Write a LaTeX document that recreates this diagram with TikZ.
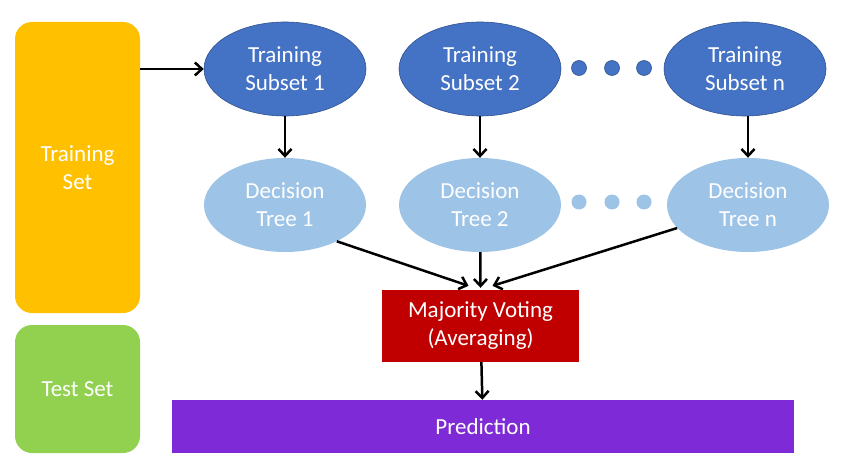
\documentclass[tikz,border=0pt]{standalone}
\usepackage{fontspec}
\setmainfont{Carlito}
\usetikzlibrary{shapes.geometric, arrows.meta}
\definecolor{setorange}{HTML}{FFC000}
\definecolor{setgreen}{HTML}{92D050}
\definecolor{subblue}{HTML}{4472C4}
\definecolor{subedge}{HTML}{2F528F}
\definecolor{treeblue}{HTML}{9DC3E6}
\definecolor{votered}{HTML}{C00000}
\definecolor{predpurple}{HTML}{7E2AD6}
\tikzstyle{dataset} = [rectangle, rounded corners=17pt, minimum width=125pt, text=white, align=center, inner sep=0pt]
\tikzstyle{subset} = [ellipse, minimum width=162pt, minimum height=94pt, inner sep=0pt, align=center, text=white, draw=subedge, line width=0.6pt, fill=subblue]
\tikzstyle{tree} = [ellipse, minimum width=162pt, minimum height=94pt, inner sep=0pt, align=center, text=white, fill=treeblue]
\tikzstyle{dot} = [circle, minimum size=15pt, inner sep=0pt]
\tikzstyle{arrow} = [line width=2.5pt,-{Straight Barb[length=7pt,width=13pt]}]

\begin{document}
\begin{tikzpicture}[x=1pt, y=-1pt, node distance=136pt, font=\fontsize{23}{28}\selectfont]
\useasboundingbox (0,0) rectangle (850,468);

% Data sets
\node (trainset) [dataset, fill=setorange, minimum height=291pt] at (77.5,167.5) {Training\\Set};
\node (testset) [dataset, fill=setgreen, minimum height=128pt] at (77.5,389) {Test Set};

% Subsets and trees
\node (sub1) [subset] at (285,69) {Training\\Subset 1};
\node (sub2) [subset] at (480,69) {Training\\Subset 2};
\node (subn) [subset] at (745,69) {Training\\Subset n};
\node (tree1) [tree, below of=sub1] {Decision\\Tree 1};
\node (tree2) [tree, below of=sub2] {Decision\\Tree 2};
\node (treen) [tree, below of=subn, xshift=3pt] {Decision\\Tree n};

% Dots
\foreach \x in {579,612,644} {
  \node [dot, fill=subblue, draw=subedge, line width=0.6pt] at (\x,68) {};
  \node [dot, fill=treeblue] at (\x,202) {};
}

% Voting and prediction
\node (vote) [rectangle, fill=votered, text=white, align=center, minimum width=197pt, minimum height=72pt] at (480.5,326) {Majority Voting\\(Averaging)};
\node (pred) [rectangle, fill=predpurple, text=white, minimum width=622pt, minimum height=53pt] at (483,426.5) {Prediction};

% Arrows
\draw [arrow] (trainset.east |- sub1) -- (sub1);
\draw [arrow] (sub1) -- (tree1);
\draw [arrow] (sub2) -- (tree2);
\draw [arrow] (subn.south -| treen) -- (treen);
\draw [arrow] (tree1.-35) -- ([xshift=-12pt, yshift=4pt]vote.north);
\draw [arrow] (tree2) -- ([yshift=2pt]vote.north);
\draw [arrow] (treen.-162) -- ([xshift=12pt, yshift=4pt]vote.north);
\draw [arrow] (vote) -- (pred);

\end{tikzpicture}
\end{document}
